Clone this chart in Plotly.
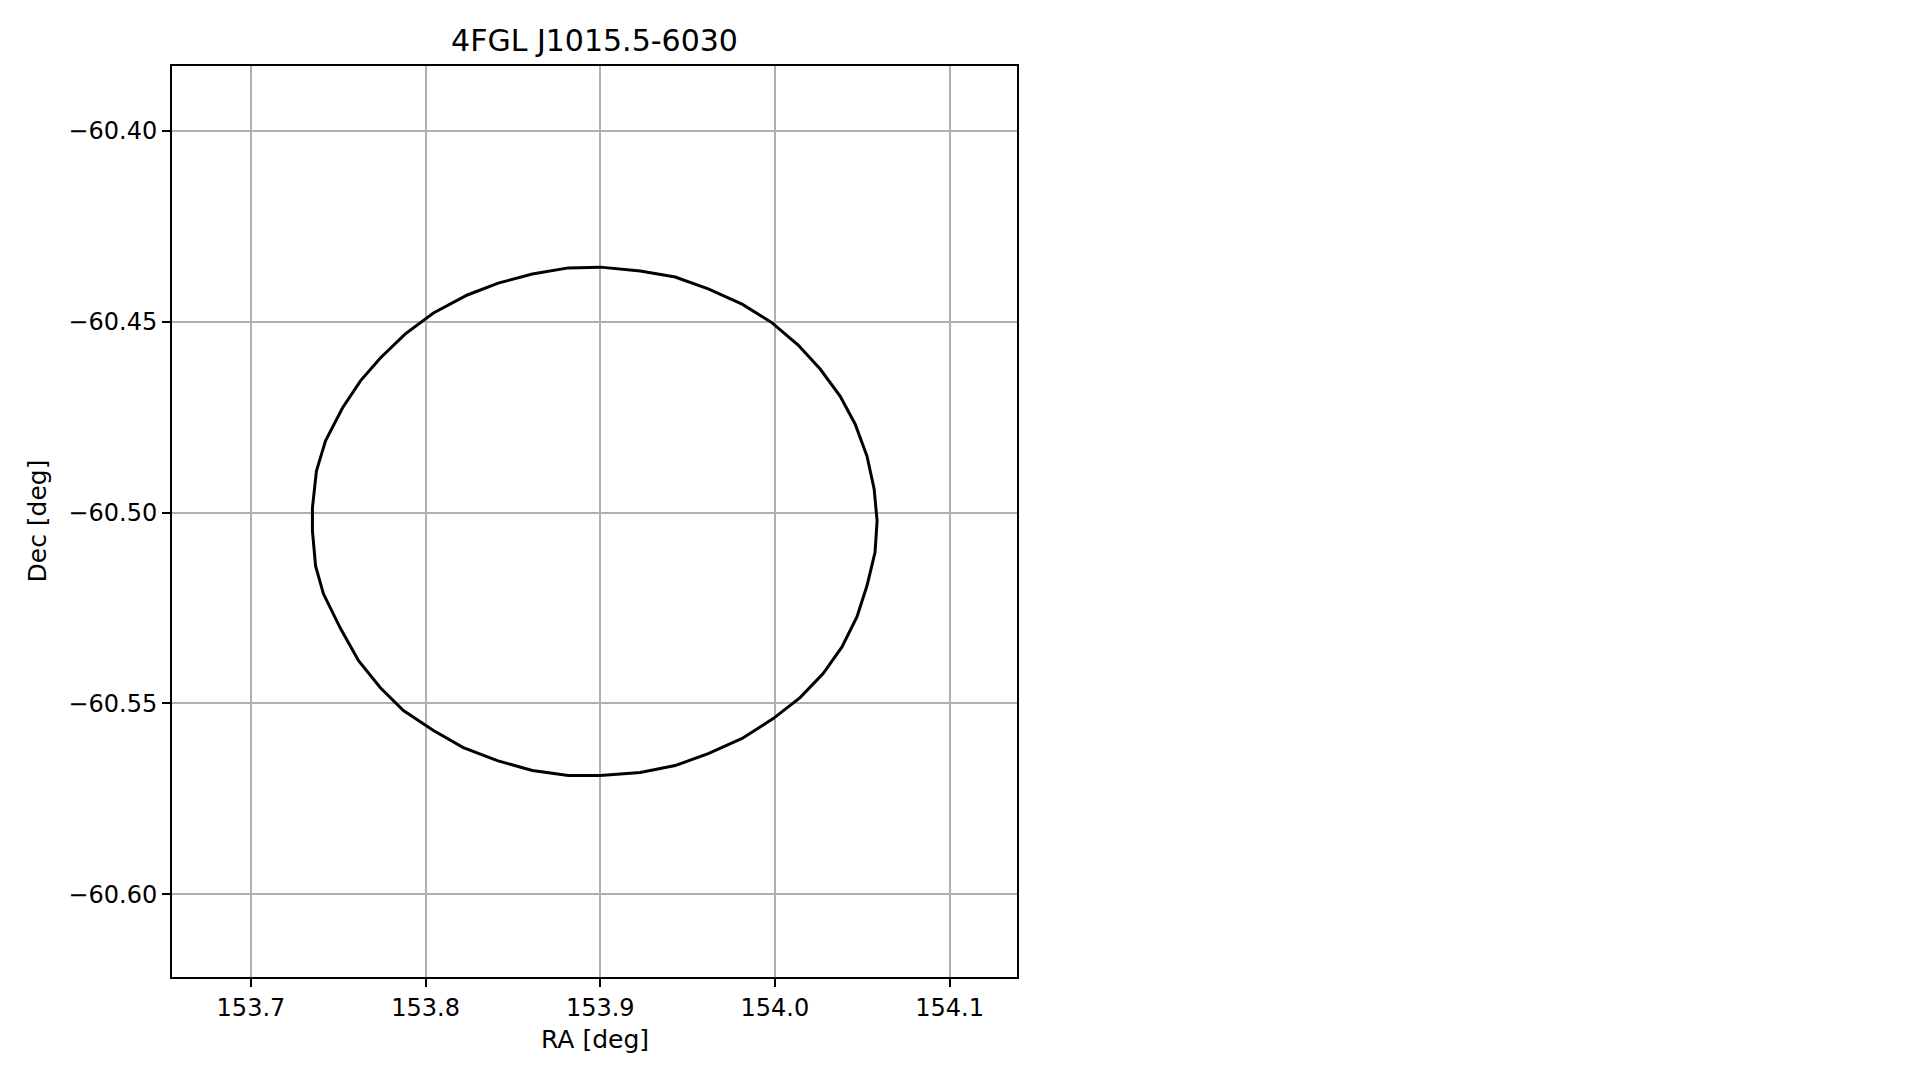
import plotly.graph_objects as go

# Source
title_text = "4FGL J1015.5-6030"

# Ellipse contour vertices (RA, Dec in degrees)
ra = [153.9000, 153.9229, 153.9429, 153.9618, 153.9812, 153.9984, 154.0133, 154.0259,
      154.0373, 154.0459, 154.0527, 154.0568, 154.0585, 154.0573, 154.0527, 154.0470,
      154.0384, 154.0276, 154.0144, 153.9990, 153.9812, 153.9618, 153.9429, 153.9229,
      153.9000, 153.8817, 153.8611, 153.8411, 153.8216, 153.8045, 153.7873, 153.7741,
      153.7616, 153.7513, 153.7415, 153.7370, 153.7352, 153.7352, 153.7375, 153.7427,
      153.7524, 153.7627, 153.7741, 153.7884, 153.8045, 153.8239, 153.8416, 153.8611,
      153.8817, 153.9000]
dec = [-60.4357, -60.4367, -60.4383, -60.4414, -60.4454, -60.4503, -60.4561, -60.4624,
       -60.4695, -60.4768, -60.4852, -60.4938, -60.5022, -60.5105, -60.5192, -60.5273,
       -60.5352, -60.5422, -60.5485, -60.5540, -60.5592, -60.5632, -60.5663, -60.5681,
       -60.5689, -60.5689, -60.5676, -60.5650, -60.5616, -60.5571, -60.5519, -60.5459,
       -60.5388, -60.5304, -60.5213, -60.5140, -60.5048, -60.4988, -60.4891, -60.4812,
       -60.4726, -60.4655, -60.4595, -60.4532, -60.4477, -60.4430, -60.4399, -60.4375,
       -60.4359, -60.4357]

# Ticks
x_ticks = [153.7, 153.8, 153.9, 154.0, 154.1]
x_ticktext = ["153.7", "153.8", "153.9", "154.0", "154.1"]
y_ticks = [-60.40, -60.45, -60.50, -60.55, -60.60]
y_ticktext = ["\u221260.40", "\u221260.45", "\u221260.50", "\u221260.55", "\u221260.60"]

x_range = [153.6548, 154.1386]
y_range = [-60.6217, -60.3830]

FONT = "DejaVu Sans"

fig = go.Figure()
fig.add_trace(go.Scatter(
    x=ra, y=dec, mode="lines",
    line=dict(color="black", width=3),
    showlegend=False, hoverinfo="skip",
))

axis_common = dict(
    showgrid=True, gridcolor="#b0b0b0", gridwidth=1.5,
    zeroline=False,
    showline=True, linecolor="black", linewidth=2, mirror=True,
    ticks="outside", ticklen=8, tickwidth=1.5, tickcolor="black",
    tickfont=dict(family=FONT, size=24, color="black"),
)

fig.update_xaxes(range=x_range, tickvals=x_ticks, ticktext=x_ticktext, **axis_common)
fig.update_yaxes(range=y_range, tickvals=y_ticks, ticktext=y_ticktext, **axis_common)

fig.update_layout(
    width=1919, height=1080,
    margin=dict(l=164, r=910, t=58, b=111),
    paper_bgcolor="white", plot_bgcolor="white",
    font=dict(family=FONT, color="black"),
    title=dict(text=title_text, x=0.5, xref="paper", xanchor="center",
               y=1 - 32 / 1080, yref="container", yanchor="middle",
               font=dict(family=FONT, size=30, color="black")),
    annotations=[
        dict(text="RA [deg]", x=0.5, xref="paper", y=0, yref="paper",
             yshift=-62, xanchor="center", yanchor="middle", showarrow=False,
             font=dict(family=FONT, size=25, color="black")),
        dict(text="Dec [deg]", x=0, xref="paper", y=0.5, yref="paper",
             xshift=-135, xanchor="center", yanchor="middle", showarrow=False,
             textangle=-90, font=dict(family=FONT, size=25, color="black")),
    ],
)

fig.write_html("out.html")
